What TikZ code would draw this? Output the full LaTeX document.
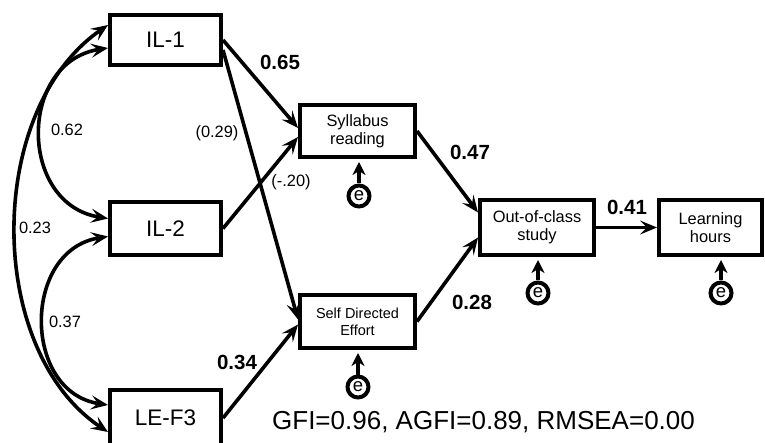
\documentclass[tikz,border=0pt]{standalone}
\usepackage{fontspec}
\setmainfont{Liberation Sans}
\usetikzlibrary{arrows.meta}
\begin{document}
\begin{tikzpicture}[x=1pt,y=-1pt,
  box/.style={draw, line width=4pt, inner sep=0pt, align=center},
  bigbox/.style={box, minimum width=111pt, font=\fontsize{22.5}{26}\selectfont},
  midbox/.style={box, font=\fontsize{16.4}{18}\selectfont},
  link/.style={line width=3.6pt, -{Stealth[length=17pt,width=14pt,inset=7pt]}},
  corr/.style={line width=3.6pt, {Stealth[length=17pt,width=14pt,inset=7pt]}-{Stealth[length=17pt,width=14pt,inset=7pt]}},
  errc/.style={draw, circle, line width=4pt, inner sep=0pt, minimum size=21pt, font=\fontsize{18.5}{18.5}\selectfont},
  earrow/.style={line width=3.6pt, -{Stealth[length=13pt,width=13pt,inset=4pt]}},
  coef/.style={font=\bfseries\fontsize{20.5}{22}\selectfont},
  cov/.style={font=\fontsize{16.4}{18}\selectfont}
]
\clip (0,0) rectangle (765,443);
\useasboundingbox (0,0) rectangle (765,443);

% exogenous variables
\node[bigbox, minimum height=50pt] (IL1) at (165.5,40) {IL-1};
\node[bigbox, minimum height=53pt] (IL2) at (165.5,228.5) {IL-2};
\node[bigbox, minimum height=57pt] (LEF3) at (165.5,418) {LE-F3};

% mediators and outcomes
\node[midbox, minimum width=115pt, minimum height=52pt] (Syl) at (357.5,131) {Syllabus\\reading};
\node[midbox, minimum width=115pt, minimum height=53pt, font=\fontsize{14.5}{17}\selectfont] (Self) at (357.5,321.5) {Self Directed\\Effort};
\node[midbox, minimum width=114pt, minimum height=55pt] (Out) at (537,227.5) {Out-of-class\\study};
\node[midbox, minimum width=103pt, minimum height=55pt] (Learn) at (710.5,227.5) {Learning\\hours};

% error terms
\node[errc] (e1) at (359,196) {e};
\node[errc] (e2) at (358,387) {e};
\node[errc] (e3) at (538,293) {e};
\node[errc] (e4) at (721,293) {e};
\draw[earrow] (e1.north) -- ([yshift=-3pt]e1.north |- Syl.south);
\draw[earrow] (e2.north) -- ([yshift=-3pt]e2.north |- Self.south);
\draw[earrow] (e3.north) -- ([yshift=-3pt]e3.north |- Out.south);
\draw[earrow] (e4.north) -- ([yshift=-3pt]e4.north |- Learn.south);

% structural paths
\draw[link] (IL1.east) -- ([yshift=3pt]Syl.west);
\draw[link] ([yshift=-10pt]IL1.east) -- ([yshift=2pt]Self.west);
\draw[link] (IL2.east) -- ([yshift=-6pt]Syl.west);
\draw[link] (LEF3.east) -- ([yshift=-3pt]Self.west);
\draw[link] (Syl.east) -- ([yshift=15pt]Out.west);
\draw[link] (Self.east) -- ([yshift=-10pt]Out.west);
\draw[link] (Out.east) -- (Learn.west);

% correlations among exogenous variables
\coordinate (c1t) at ([yshift=15pt]IL1.west);
\coordinate (c1b) at ([yshift=-14pt]LEF3.west);
\coordinate (c2t) at ([yshift=-8pt]IL1.west);
\coordinate (c2b) at ([yshift=10pt]IL2.west);
\coordinate (c3t) at ([yshift=-8pt]IL2.west);
\coordinate (c3b) at ([yshift=13pt]LEF3.west);
\draw[corr] (c1t) .. controls (-15,110) and (-15,350) .. (c1b);
\draw[corr] (c2t) .. controls (18,62) and (18,204) .. (c2b);
\draw[corr] (c3t) .. controls (22,250) and (22,392) .. (c3b);

% coefficients
\node[coef] (l065) at (280,62) {0.65};
\node[cov] (l029) at (217,133) {(0.29)};
\node[cov] (l020) at (291,182) {(-.20)};
\node[cov] (l062) at (67,130) {0.62};
\node[cov] (l023) at (35,228) {0.23};
\node[cov] (l037) at (65,322) {0.37};
\node[coef] (l034) at (237,362) {0.34};
\node[coef] (l047) at (470,152) {0.47};
\node[coef] (l028) at (472,302) {0.28};
\node[coef] (l041) at (627,207) {0.41};

% fit indices
\node[font=\fontsize{26}{28}\selectfont] (fit) at (483.5,422) {GFI=0.96, AGFI=0.89, RMSEA=0.00};
\end{tikzpicture}
\end{document}
